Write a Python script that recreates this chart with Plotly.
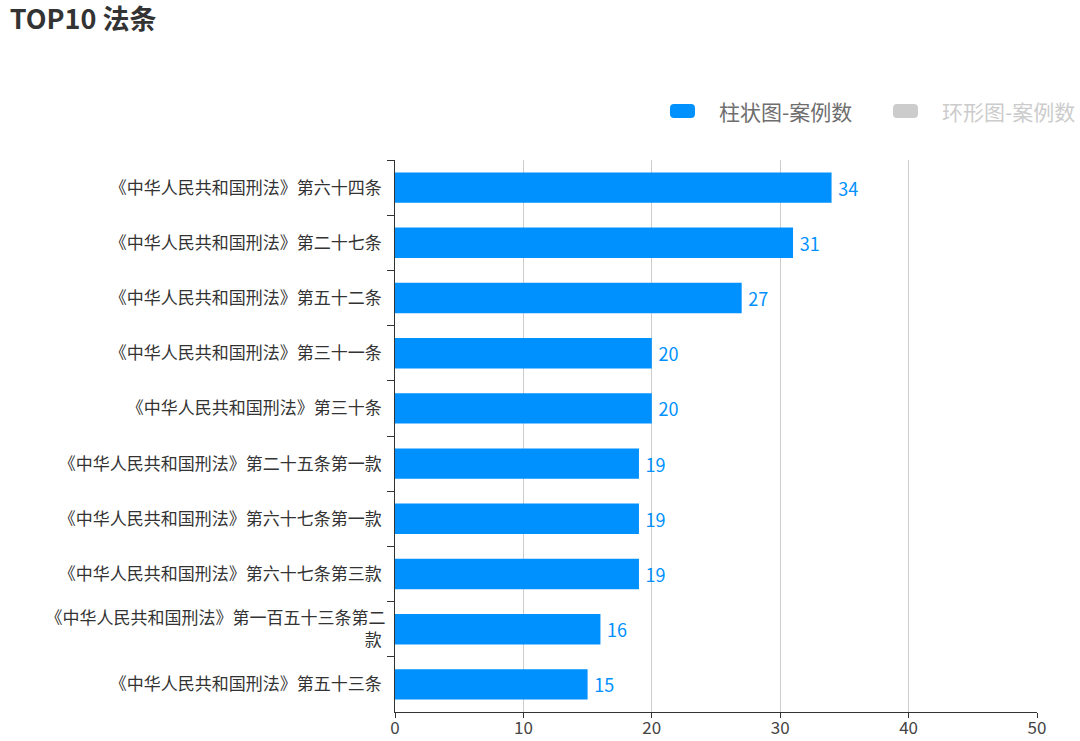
import plotly.graph_objects as go

# TOP10 law articles, top to bottom as in the picture
articles = [
    "《中华人民共和国刑法》第六十四条",
    "《中华人民共和国刑法》第二十七条",
    "《中华人民共和国刑法》第五十二条",
    "《中华人民共和国刑法》第三十一条",
    "《中华人民共和国刑法》第三十条",
    "《中华人民共和国刑法》第二十五条第一款",
    "《中华人民共和国刑法》第六十七条第一款",
    "《中华人民共和国刑法》第六十七条第三款",
    "《中华人民共和国刑法》第一百五十三条第二<br>款",
    "《中华人民共和国刑法》第五十三条",
]
case_counts = [34, 31, 27, 20, 20, 19, 19, 19, 16, 15]
x_ticks = [0, 10, 20, 30, 40, 50]

legend_names = ["柱状图-案例数", "环形图-案例数"]

blue = "#0091ff"
grey = "#cccccc"
font_family = "Noto Sans CJK SC, Noto Sans, sans-serif"

fig = go.Figure()

fig.add_trace(go.Bar(
    y=articles,
    x=case_counts,
    orientation="h",
    marker=dict(color=blue, line=dict(width=0)),
    width=0.55,
    text=case_counts,
    texttemplate="\u2009%{x}",
    textposition="outside",
    textfont=dict(color=blue, size=18, family=font_family),
    cliponaxis=False,
    showlegend=False,
))

# hand-made legend (rounded swatches like the original)
def rounded_rect(cx, cy, color):
    path = ("M-12.5,-3 L-12.5,3 Q-12.5,7 -8.5,7 L8.5,7 Q12.5,7 12.5,3 "
            "L12.5,-3 Q12.5,-7 8.5,-7 L-8.5,-7 Q-12.5,-7 -12.5,-3 Z")
    return dict(type="path", xref="paper", yref="paper",
                xsizemode="pixel", ysizemode="pixel",
                xanchor=cx, yanchor=cy, path=path,
                fillcolor=color, line=dict(width=0))

shapes = [rounded_rect(0.4478, 1.0888, blue), rounded_rect(0.7952, 1.0888, grey)]
annotations = [
    dict(text=legend_names[0], x=0.5016, y=1.0888, xref="paper", yref="paper",
         xanchor="left", yanchor="middle", showarrow=False,
         font=dict(size=21, color="#6e6e6e", family=font_family)),
    dict(text=legend_names[1], x=0.8489, y=1.0888, xref="paper", yref="paper",
         xanchor="left", yanchor="middle", showarrow=False,
         font=dict(size=21, color=grey, family=font_family)),
]

fig.update_layout(
    width=1080, height=741,
    paper_bgcolor="white", plot_bgcolor="white",
    margin=dict(l=395, r=43, t=160, b=29),
    font=dict(family=font_family, color="#333333"),
    title=dict(text="<b>TOP10 法条</b>", x=0.009, xanchor="left",
               y=1 - 20 / 741, yanchor="middle", yref="container",
               font=dict(size=27, color="#333333", family=font_family)),
    shapes=shapes,
    annotations=annotations,
    bargap=0.45,
)

fig.update_xaxes(
    range=[0, 50], tickvals=x_ticks,
    showgrid=True, gridcolor="#cccccc", gridwidth=1,
    zeroline=False, automargin=False,
    showline=True, linecolor="#333333", linewidth=1,
    ticks="outside", ticklen=5, tickcolor="#333333",
    tickfont=dict(size=17, color="#444444"),
    ticklabelstandoff=-4,
)
fig.update_yaxes(
    autorange="reversed",
    showgrid=False, automargin=False,
    showline=True, linecolor="#333333", linewidth=1,
    ticks="outside", ticklen=7, tickcolor="#333333",
    tickson="boundaries",
    tickfont=dict(size=17, color="#333333"),
    ticksuffix=" ", ticklabelstandoff=5,
)

# the page's default body margin would push the figure 8px right and down
fig.write_html("out.html", config={"displayModeBar": False},
               post_script="document.body.style.margin='0';")
